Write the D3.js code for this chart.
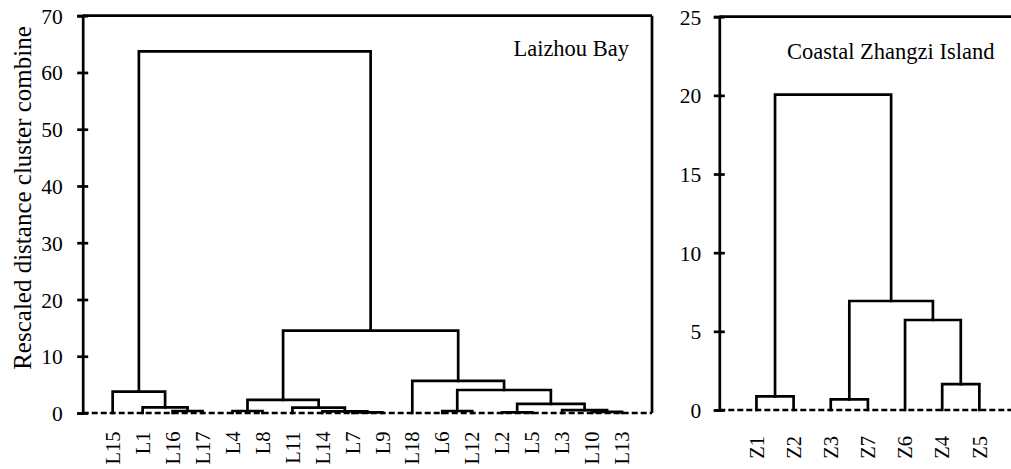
<!DOCTYPE html>
<html>
<head>
<meta charset="utf-8">
<script src="https://cdn.jsdelivr.net/npm/d3@7/dist/d3.min.js"></script>
<style>
  html, body { margin: 0; padding: 0; background: #fff; }
  svg { display: block; }
  text { font-family: "Liberation Serif", "Times New Roman", serif; fill: #000; }
</style>
</head>
<body>
<svg id="chart" width="1011" height="469"></svg>
<script>
// ---------- Data ----------
// Laizhou Bay dendrogram
const leftLeaves = ["L15","L1","L16","L17","L4","L8","L11","L14","L7","L9","L18","L6","L12","L2","L5","L3","L10","L13"];
// each merge joins mergeA[i] and mergeB[i] (leaf names or "m<k>" ids) at mergeHeight[i]
const leftMergeA      = ["L7","L14","L11","L4","m3","L16","L1","L15","L6","L2","L10","L3","m9","m8","L18","m4","m7"];
const leftMergeB      = ["L9","m0","m1","L8","m2","L17","m5","m6","L12","L5","L13","m10","m11","m12","m13","m14","m15"];
const leftMergeHeight = [0.1, 0.3, 0.95, 0.35, 2.3, 0.35, 1.0, 3.75, 0.35, 0.1, 0.2, 0.5, 1.6, 4.05, 5.65, 14.5, 63.7];
const leftTicks = [0,10,20,30,40,50,60,70];

// Coastal Zhangzi Island dendrogram
const rightLeaves = ["Z1","Z2","Z3","Z7","Z6","Z4","Z5"];
const rightMergeA      = ["Z1","Z3","Z4","Z6","m1","m0"];
const rightMergeB      = ["Z2","Z7","Z5","m2","m3","m4"];
const rightMergeHeight = [0.87, 0.68, 1.65, 5.72, 6.93, 20.05];
const rightTicks = [0,5,10,15,20,25];

const yLabel = "Rescaled distance cluster combine";
const leftTitle = "Laizhou Bay";
const rightTitle = "Coastal Zhangzi Island";

// ---------- Drawing ----------
const svg = d3.select("#chart");
const LW = 2.7;

function drawPanel(cfg) {
  const g = svg.append("g");
  const x = d3.scalePoint().domain(cfg.leaves).range([cfg.x0, cfg.x1]).padding(1);
  const y = d3.scaleLinear().domain([0, cfg.ymax]).range([cfg.yb, cfg.yt]);

  // node positions
  const pos = {};
  cfg.leaves.forEach(l => pos[l] = {x: x(l), h: 0});
  const links = [];
  cfg.A.forEach((a, i) => {
    const b = cfg.B[i], h = cfg.H[i];
    const pa = pos[a], pb = pos[b];
    links.push({xa: pa.x, ha: pa.h, xb: pb.x, hb: pb.h, h: h});
    pos["m" + i] = {x: (pa.x + pb.x) / 2, h: h};
  });

  // dendrogram links
  g.append("g").selectAll("path").data(links).join("path")
    .attr("d", d => `M${d.xa},${y(d.ha)}V${y(d.h)}H${d.xb}V${y(d.hb)}`)
    .attr("fill", "none").attr("stroke", "#000").attr("stroke-width", LW)
    .attr("stroke-linejoin", "miter").attr("stroke-linecap", "square");

  // dashed zero line
  g.append("line")
    .attr("x1", cfg.x0).attr("x2", cfg.dashEnd)
    .attr("y1", y(0)).attr("y2", y(0))
    .attr("stroke", "#000").attr("stroke-width", 2.5)
    .attr("stroke-dasharray", "6,3");

  // frame: top and (optional) right
  g.append("line").attr("x1", cfg.x0).attr("x2", cfg.frameRight)
    .attr("y1", cfg.yt).attr("y2", cfg.yt)
    .attr("stroke", "#000").attr("stroke-width", LW);
  if (cfg.rightBorder) {
    g.append("line").attr("x1", cfg.x1).attr("x2", cfg.x1)
      .attr("y1", cfg.yt).attr("y2", y(0))
      .attr("stroke", "#000").attr("stroke-width", LW);
  }

  // y axis
  const ax = g.append("g").attr("transform", `translate(${cfg.x0},0)`)
    .call(d3.axisLeft(y).tickValues(cfg.ticks).tickSizeOuter(0).tickSize(5.5).tickFormat(d3.format("d")));
  ax.select(".domain").attr("stroke-width", LW).attr("stroke", "#000");
  ax.selectAll(".tick line").attr("x1", 5.5).attr("x2", -5.5).attr("stroke-width", LW).attr("stroke", "#000");
  ax.selectAll(".tick text").attr("x", -cfg.labelGap).attr("dy", "0.35em")
    .attr("font-size", 21.5).attr("font-family", "Liberation Serif, Times New Roman, serif").attr("fill", "#000");

  // leaf labels
  g.append("g").selectAll("text").data(cfg.leaves).join("text")
    .attr("transform", d => `translate(${x(d)},${y(0) + cfg.leafGap}) rotate(-90)`)
    .attr("text-anchor", "end").attr("dy", "0.35em")
    .attr("font-size", 20.5)
    .text(d => d);

  // title
  g.append("text").attr("x", cfg.titleX).attr("y", cfg.titleY)
    .attr("text-anchor", cfg.titleAnchor).attr("font-size", 22.5)
    .text(cfg.title);
}

drawPanel({
  leaves: leftLeaves, A: leftMergeA, B: leftMergeB, H: leftMergeHeight, ticks: leftTicks,
  x0: 82.7, x1: 652, yt: 15.7, yb: 413, ymax: 70,
  dashEnd: 652, frameRight: 652, rightBorder: true,
  labelGap: 20, leafGap: 18.5,
  title: leftTitle, titleX: 629, titleY: 56, titleAnchor: "end"
});

drawPanel({
  leaves: rightLeaves, A: rightMergeA, B: rightMergeB, H: rightMergeHeight, ticks: rightTicks,
  x0: 719.3, x1: 1016.5, yt: 16.7, yb: 410, ymax: 25,
  dashEnd: 1011, frameRight: 1011, rightBorder: false,
  labelGap: 18, leafGap: 26,
  title: rightTitle, titleX: 787, titleY: 59, titleAnchor: "start"
});

// y-axis title
svg.append("text")
  .attr("transform", "translate(22,198) rotate(-90)")
  .attr("text-anchor", "middle").attr("dy", "0.35em")
  .attr("font-size", 25)
  .text(yLabel);
</script>
</body>
</html>
